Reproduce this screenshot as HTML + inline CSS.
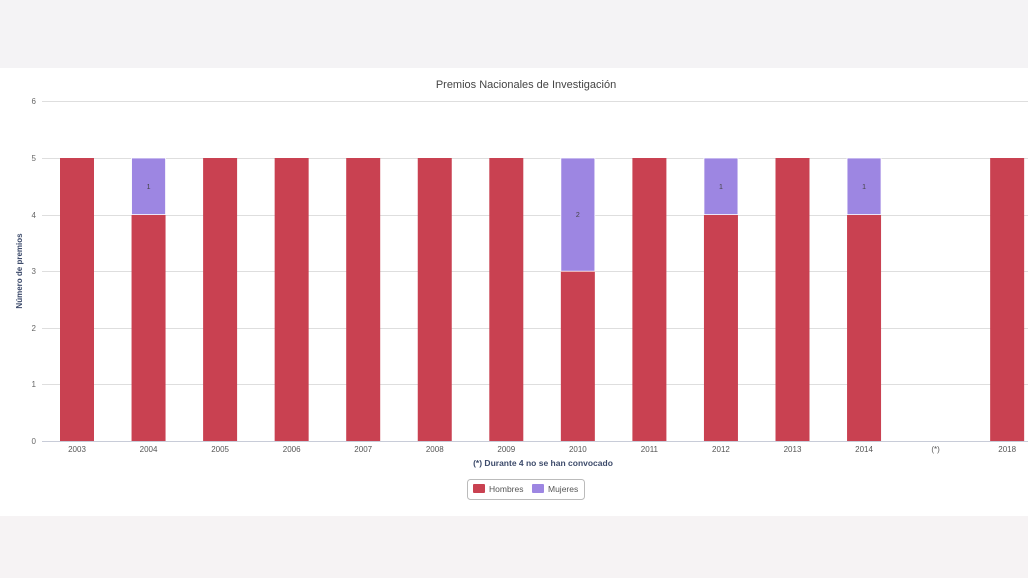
<!DOCTYPE html>
<html><head><meta charset="utf-8"><style>
html,body{margin:0;padding:0;width:1028px;height:578px;overflow:hidden;background:#fff;font-family:"Liberation Sans",sans-serif}
</style></head><body>
<svg width="1028" height="578" xmlns="http://www.w3.org/2000/svg" font-family="Liberation Sans, sans-serif">
<rect x="0" y="0" width="1028" height="68" fill="#f4f3f5"/>
<rect x="0" y="516" width="1028" height="62" fill="#f6f3f4"/>
<text x="526" y="88" font-size="11" fill="#444" text-anchor="middle">Premios Nacionales de Investigación</text>
<g stroke="#dedede" stroke-width="1">
<line x1="42" x2="1028" y1="101.5" y2="101.5"/>
<line x1="42" x2="1028" y1="158.5" y2="158.5"/>
<line x1="42" x2="1028" y1="215.5" y2="215.5"/>
<line x1="42" x2="1028" y1="271.5" y2="271.5"/>
<line x1="42" x2="1028" y1="328.5" y2="328.5"/>
<line x1="42" x2="1028" y1="384.5" y2="384.5"/>
</g>
<line x1="42" x2="1028" y1="441.5" y2="441.5" stroke="#c8ccd8"/>
<g font-size="8" fill="#666" text-anchor="end">
<text x="36" y="104">6</text><text x="36" y="161">5</text><text x="36" y="218">4</text>
<text x="36" y="274">3</text><text x="36" y="331">2</text><text x="36" y="387">1</text><text x="36" y="444">0</text>
</g>
<text transform="translate(22,271) rotate(-90)" font-size="8" fill="#3d4b6b" font-weight="bold" text-anchor="middle">Número de premios</text>
<g fill="#c94151">
<rect x="60" y="158" width="34" height="283"/>
<rect x="131.55" y="214.6" width="34" height="226.4"/>
<rect x="203.1" y="158" width="34" height="283"/>
<rect x="274.65" y="158" width="34" height="283"/>
<rect x="346.2" y="158" width="34" height="283"/>
<rect x="417.75" y="158" width="34" height="283"/>
<rect x="489.3" y="158" width="34" height="283"/>
<rect x="560.85" y="271.2" width="34" height="169.8"/>
<rect x="632.4" y="158" width="34" height="283"/>
<rect x="703.95" y="214.6" width="34" height="226.4"/>
<rect x="775.5" y="158" width="34" height="283"/>
<rect x="847.05" y="214.6" width="34" height="226.4"/>
<rect x="990.15" y="158" width="34" height="283"/>
</g>
<g fill="#9d86e2" stroke="#fff" stroke-width="0.8">
<rect x="131.55" y="158" width="34" height="56.6"/>
<rect x="560.85" y="158" width="34" height="113.2"/>
<rect x="703.95" y="158" width="34" height="56.6"/>
<rect x="847.05" y="158" width="34" height="56.6"/>
</g>
<g font-size="7" fill="#444" text-anchor="middle">
<text x="148.55" y="189">1</text>
<text x="577.85" y="217">2</text>
<text x="720.95" y="189">1</text>
<text x="864.05" y="189">1</text>
</g>
<g font-size="8" fill="#555" text-anchor="middle">
<text x="77" y="452">2003</text>
<text x="148.55" y="452">2004</text>
<text x="220.1" y="452">2005</text>
<text x="291.65" y="452">2006</text>
<text x="363.2" y="452">2007</text>
<text x="434.75" y="452">2008</text>
<text x="506.3" y="452">2009</text>
<text x="577.85" y="452">2010</text>
<text x="649.4" y="452">2011</text>
<text x="720.95" y="452">2012</text>
<text x="792.5" y="452">2013</text>
<text x="864.05" y="452">2014</text>
<text x="935.6" y="452">(*)</text>
<text x="1007.15" y="452">2018</text>
</g>
<text x="543" y="466" font-size="8.5" fill="#3d4b6b" font-weight="bold" text-anchor="middle">(*) Durante 4 no se han convocado</text>
<rect x="467.5" y="479.5" width="117" height="20" rx="3" fill="#fff" stroke="#bbb"/>
<rect x="473" y="484" width="12" height="9" rx="1" fill="#c94151"/>
<text x="489" y="492" font-size="8.5" fill="#555">Hombres</text>
<rect x="532" y="484" width="12" height="9" rx="1" fill="#9d86e2"/>
<text x="548" y="492" font-size="8.5" fill="#555">Mujeres</text>
</svg>
</body></html>
